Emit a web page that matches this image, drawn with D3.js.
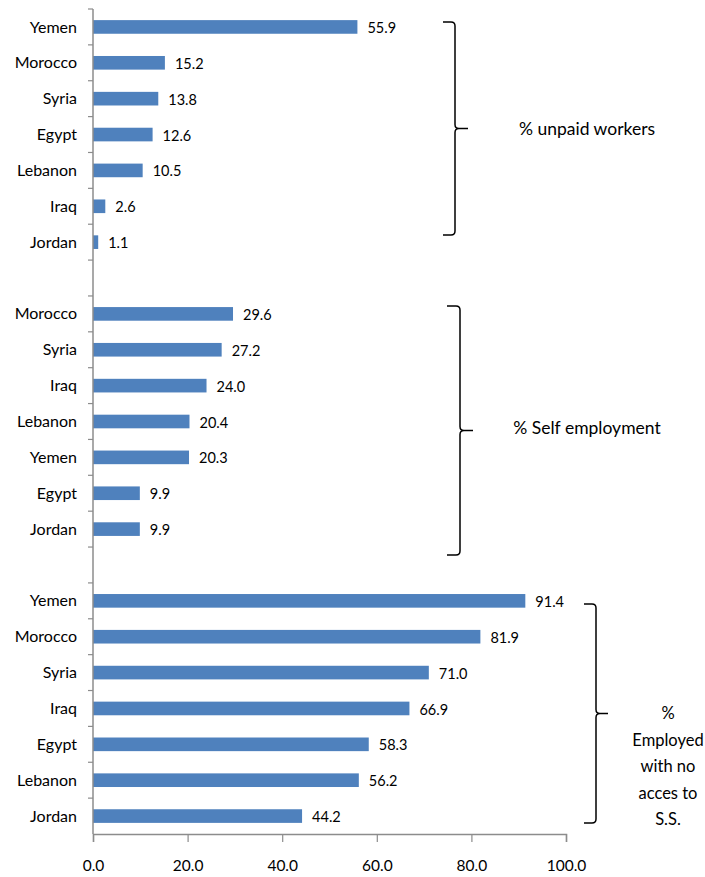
<!DOCTYPE html>
<html>
<head>
<meta charset="utf-8">
<script src="https://cdn.jsdelivr.net/npm/d3@7"></script>
<style>
  html, body { margin: 0; padding: 0; background: #fff; }
  svg { display: block; }
  text { font-family: Lato, "Open Sans", sans-serif; fill: #000; }
</style>
</head>
<body>
<svg id="chart" width="705" height="877"></svg>
<script>
// ---- Data ----
const groupNames = ["% unpaid workers", "% Self employment", "% Employed with no acces to S.S."];
const unpaidCountries = ["Yemen", "Morocco", "Syria", "Egypt", "Lebanon", "Iraq", "Jordan"];
const unpaidValues = [55.9, 15.2, 13.8, 12.6, 10.5, 2.6, 1.1];
const selfCountries = ["Morocco", "Syria", "Iraq", "Lebanon", "Yemen", "Egypt", "Jordan"];
const selfValues = [29.6, 27.2, 24.0, 20.4, 20.3, 9.9, 9.9];
const ssCountries = ["Yemen", "Morocco", "Syria", "Iraq", "Egypt", "Lebanon", "Jordan"];
const ssValues = [91.4, 81.9, 71.0, 66.9, 58.3, 56.2, 44.2];
const xTicks = [0, 20, 40, 60, 80, 100];

(function () {
// build slot list (with blank separator slots)
const groups = [
  { countries: unpaidCountries, values: unpaidValues },
  { countries: selfCountries, values: selfValues },
  { countries: ssCountries, values: ssValues }
];
const slots = [];
groups.forEach((g, gi) => {
  if (gi > 0) slots.push({ key: "gap" + gi, label: "", value: null });
  g.countries.forEach((c, i) => slots.push({ key: gi + "-" + c, label: c, value: g.values[i], group: gi }));
});

const svg = d3.select("#chart");
const x = d3.scaleLinear().domain([0, 100]).range([93, 566]);
const yTop = 9, yBottom = 834;
const y = d3.scaleBand().domain(slots.map(d => d.key)).range([yTop, yBottom])
  .paddingInner(0.62).paddingOuter(0.31);
const slotPos = d3.scaleLinear().domain([0, slots.length]).range([yTop, yBottom]);

// bars
svg.append("g").selectAll("rect")
  .data(slots.filter(d => d.value !== null))
  .join("rect")
  .attr("x", x(0))
  .attr("y", d => y(d.key))
  .attr("width", d => x(d.value) - x(0))
  .attr("height", y.bandwidth())
  .attr("fill", "#4F81BD");

// value labels
svg.append("g").selectAll("text")
  .data(slots.filter(d => d.value !== null))
  .join("text")
  .attr("x", d => x(d.value) + 10)
  .attr("y", d => y(d.key) + y.bandwidth() / 2 + 1)
  .attr("dy", "0.35em")
  .attr("font-size", 14.5)
  .text(d => d.value.toFixed(1));

// category labels
svg.append("g").selectAll("text")
  .data(slots.filter(d => d.label))
  .join("text")
  .attr("x", 77)
  .attr("y", d => y(d.key) + y.bandwidth() / 2)
  .attr("dy", "0.35em")
  .attr("text-anchor", "end")
  .attr("font-size", 16)
  .text(d => d.label);

// y axis line and ticks at slot boundaries
const axisColor = "#8c8c8c";
svg.append("line")
  .attr("x1", x(0)).attr("x2", x(0))
  .attr("y1", yTop).attr("y2", yBottom)
  .attr("stroke", axisColor).attr("stroke-width", 1.5);
svg.append("g").selectAll("line")
  .data(d3.range(slots.length))
  .join("line")
  .attr("x1", x(0) - 5).attr("x2", x(0))
  .attr("y1", d => slotPos(d)).attr("y2", d => slotPos(d))
  .attr("stroke", axisColor).attr("stroke-width", 1.2);

// x axis
const xAxis = d3.axisBottom(x).tickValues(xTicks).tickFormat(d3.format(".1f")).tickSize(8).tickPadding(18);
const gx = svg.append("g").attr("transform", `translate(0,${yBottom})`).call(xAxis);
gx.select(".domain").attr("stroke", axisColor).attr("stroke-width", 1.5);
gx.selectAll(".tick line").attr("stroke", axisColor).attr("stroke-width", 1.2);
gx.selectAll(".tick text").attr("font-size", 15.5).attr("font-family", "Lato, 'Open Sans', sans-serif").attr("fill", "#000");

// braces
function brace(xLine, y0, y1, armLeft, tip) {
  const ym = (y0 + y1) / 2;
  const r = 4;
  const p = d3.path();
  p.moveTo(xLine - armLeft, y0);
  p.lineTo(xLine - r, y0);
  p.quadraticCurveTo(xLine, y0, xLine, y0 + r);
  p.lineTo(xLine, ym - r);
  p.quadraticCurveTo(xLine, ym, xLine + r, ym);
  p.lineTo(xLine + tip, ym);
  p.moveTo(xLine + r, ym);
  p.quadraticCurveTo(xLine, ym, xLine, ym + r);
  p.lineTo(xLine, y1 - r);
  p.quadraticCurveTo(xLine, y1, xLine - r, y1);
  p.lineTo(xLine - armLeft, y1);
  svg.append("path").attr("d", p.toString())
    .attr("fill", "none").attr("stroke", "#000").attr("stroke-width", 1.5);
  return ym;
}
const m1 = brace(455, slotPos(0.36), slotPos(6.3), 12, 13);
const m2 = brace(460, slotPos(8.28), slotPos(15.22), 13, 13);
const m3 = brace(596, slotPos(16.59), slotPos(22.69), 12, 12);

svg.append("text").attr("x", 587).attr("y", m1).attr("dy", "0.35em")
  .attr("text-anchor", "middle").attr("font-size", 17.5).text(groupNames[0]);
svg.append("text").attr("x", 587).attr("y", m2 - 3).attr("dy", "0.35em")
  .attr("text-anchor", "middle").attr("font-size", 17.5).text(groupNames[1]);
const lines3 = ["%", "Employed", "with no", "acces to", "S.S."];
svg.append("g").selectAll("text").data(lines3).join("text")
  .attr("x", 668)
  .attr("y", (d, i) => m3 + i * 26.5)
  .attr("dy", "0.35em")
  .attr("text-anchor", "middle")
  .attr("font-size", 16.5)
  .text(d => d);
})();
</script>
</body>
</html>
